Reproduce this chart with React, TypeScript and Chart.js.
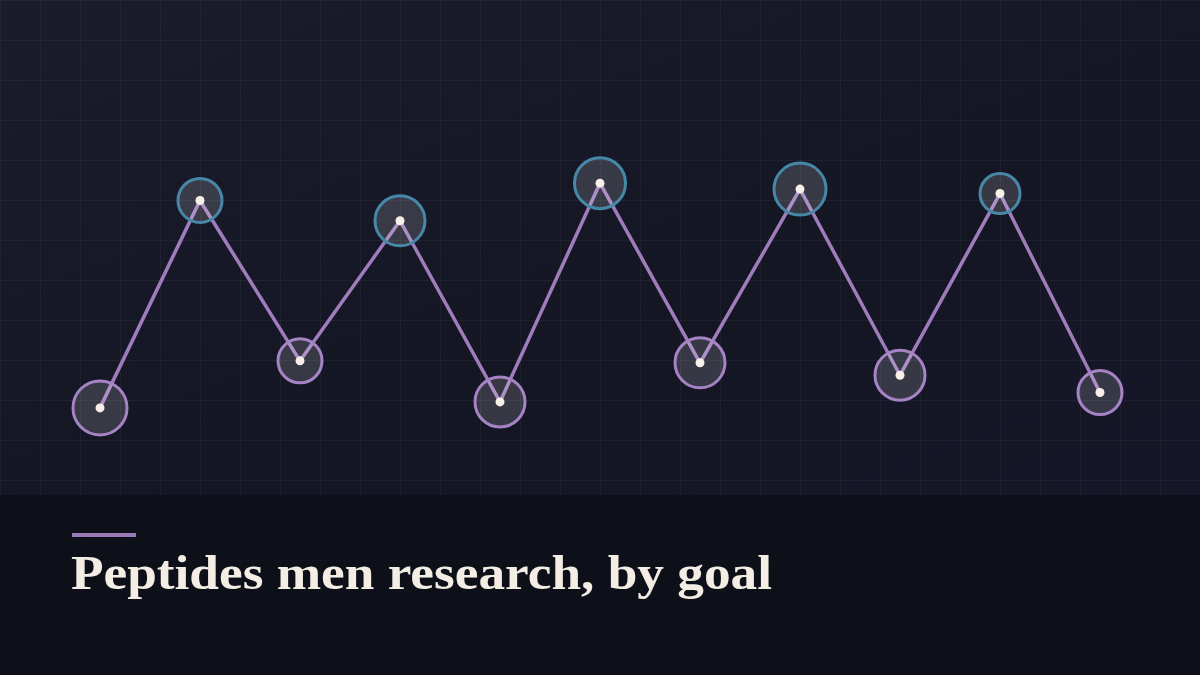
import { useEffect, useRef } from 'react';
import { Chart, registerables } from 'chart.js';

Chart.register(...registerables);

// goals (not printed on the card)
const GOALS = [
    'Muscle growth', 'Fat loss', 'Recovery', 'Testosterone', 'Sleep', 'Libido',
    'Skin & hair', 'Cognition', 'Joint health', 'Longevity', 'Energy',
];
// relative research interest, 0-100
const INTEREST = [17.6, 59.5, 27.1, 55.4, 18.8, 63.0, 26.7, 61.8, 24.2, 60.9, 20.7];
// bubble weight per goal
const WEIGHT = [27, 22, 22, 25, 25, 25.5, 25, 26, 25, 20, 22];

const TITLE = 'Peptides men research, by goal';

const LINE = '#9f7dbd';
const RING_HIGH = '#4787a8';
const RING_LOW = '#a583c4';
const DOT = '#f6f0e8';

const GRID_TOP =
    'linear-gradient(rgba(255,255,255,0.045) 1px, transparent 1px), linear-gradient(90deg, rgba(255,255,255,0.045) 1px, transparent 1px)';
const GRID_BOTTOM =
    'linear-gradient(rgba(255,255,255,0.012) 1px, transparent 1px), linear-gradient(90deg, rgba(255,255,255,0.012) 1px, transparent 1px)';

export default function App() {
    const canvasRef = useRef<HTMLCanvasElement | null>(null);
    const chartInstance = useRef<Chart | null>(null);

    useEffect(() => {
        if (!canvasRef.current) return;
        if (chartInstance.current) chartInstance.current.destroy();

        const mean = INTEREST.reduce((a, b) => a + b, 0) / INTEREST.length;
        const rings = INTEREST.map(v => (v > mean ? RING_HIGH : RING_LOW));

        chartInstance.current = new Chart(canvasRef.current, {
            type: 'line',
            data: {
                labels: GOALS,
                datasets: [
                    {
                        type: 'line',
                        data: INTEREST,
                        borderColor: LINE,
                        borderWidth: 3.5,
                        pointRadius: 0,
                        tension: 0,
                        order: 3,
                        clip: false,
                    },
                    {
                        type: 'bubble',
                        data: GOALS.map((g, i) => ({ x: g, y: INTEREST[i], r: WEIGHT[i] })),
                        backgroundColor: 'rgba(255,255,255,0.15)',
                        borderColor: rings,
                        borderWidth: 3,
                        order: 2,
                        clip: false,
                    } as any,
                    {
                        type: 'line',
                        data: INTEREST,
                        showLine: false,
                        pointRadius: 4.5,
                        pointBorderWidth: 0,
                        pointBackgroundColor: DOT,
                        order: 1,
                        clip: false,
                    },
                ],
            },
            options: {
                responsive: true,
                maintainAspectRatio: false,
                animation: false,
                events: [],
                layout: { autoPadding: false, padding: { left: 100, right: 100, top: 0, bottom: 0 } },
                plugins: { legend: { display: false }, tooltip: { enabled: false } },
                scales: {
                    x: { type: 'category', display: false, offset: false },
                    y: { type: 'linear', display: false, min: 0, max: 100 },
                },
            },
        });

        return () => {
            if (chartInstance.current) {
                chartInstance.current.destroy();
                chartInstance.current = null;
            }
        };
    }, []);

    return (
        <div style={{ position: 'fixed', left: 0, top: 0, width: 1200, height: 675, overflow: 'hidden', background: '#0d1019' }}>
            <div
                style={{
                    position: 'absolute', left: 0, top: 0, width: 1200, height: 495,
                    backgroundColor: '#171929',
                    backgroundImage: GRID_TOP + ', linear-gradient(160deg, #1a1c2c 0%, #141624 60%, #161628 100%)',
                    backgroundSize: '40px 40px, 40px 40px, 100% 100%',
                    backgroundPosition: '0 0, 0 0, 0 0',
                }}
            />
            <div
                style={{
                    position: 'absolute', left: 0, top: 495, width: 1200, height: 180,
                    backgroundImage: GRID_BOTTOM,
                    backgroundSize: '40px 40px',
                    backgroundPosition: '0 -15px',
                }}
            />
            <div style={{ position: 'absolute', left: 0, top: 0, width: 1200, height: 495 }}>
                <canvas ref={canvasRef}></canvas>
            </div>
            <div style={{ position: 'absolute', left: 72, top: 533, width: 64, height: 4, background: '#9b7bb5' }} />
            <div
                style={{
                    position: 'absolute', left: 71, top: 549, whiteSpace: 'nowrap',
                    fontFamily: '"Liberation Serif", serif', fontWeight: 700, fontSize: 48, lineHeight: '48px',
                    color: '#f3ede4', transform: 'scaleX(1.11)', transformOrigin: '0 0',
                }}
            >
                {TITLE}
            </div>
        </div>
    );
}
